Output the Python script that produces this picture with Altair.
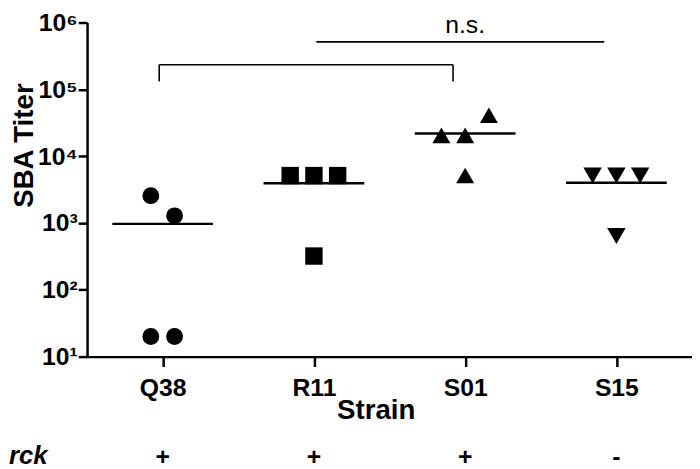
import json
import altair as alt
import pandas as pd

# ---- data ----
strains = ["Q38", "R11", "S01", "S15"]
rck = ["+", "+", "+", "-"]

titers = {
    "Q38": [2560, 1280, 20, 20],
    "R11": [5120, 5120, 5120, 320],
    "S01": [20480, 20480, 40960, 5120],
    "S15": [5120, 5120, 5120, 640],
}
# column slot of each replicate dot within its strain (scatter arrangement)
slots = {
    "Q38": [-0.5, 0.5, -0.5, 0.5],
    "R11": [-1, 0, 1, 0],
    "S01": [-1, 0, 1, 0],
    "S15": [-1, 0, 1, 0],
}
y_ticks = [10, 100, 1000, 10000, 100000, 1000000]
bracket_pair = ("Q38", "S01")
ns_pair = ("R11", "S15")
ns_label = "n.s."

rows = []
for i, s in enumerate(strains):
    for v, sl in zip(titers[s], slots[s]):
        rows.append({"strain": s, "idx": i, "titer": v, "slot": sl})
df = pd.DataFrame(rows)

FONT = "Liberation Sans"
xscale = alt.Scale(domain=[-0.5, len(strains) - 0.5], nice=False, zero=False)
yscale = alt.Scale(type="log", domain=[10, 1000000], nice=False)

sup = ["⁰", "¹", "²", "³", "⁴", "⁵", "⁶"]
y_label_expr = "'10' + " + json.dumps(sup) + "[round(log(datum.value) / LN10)]"
x_label_expr = json.dumps(strains) + "[round(datum.value)]"

xaxis = alt.Axis(
    values=list(range(len(strains))), labelExpr=x_label_expr, title="Strain",
    titleFontSize=28, titleFontWeight="bold", titleX=292, titleY=55,
    titleAlign="center", titleBaseline="middle",
    labelFontSize=25, labelFontWeight="bold", labelPadding=9, labelOverlap=False,
    tickSize=10, tickWidth=2.5, domainWidth=2.5, grid=False,
    domainColor="black", tickColor="black", labelColor="black", titleColor="black",
)
yaxis = alt.Axis(
    values=y_ticks, labelExpr=y_label_expr, title="SBA Titer",
    titleFontSize=28, titleFontWeight="bold", titleX=-63, titleY=124,
    titleAngle=270, titleAlign="center", titleBaseline="middle",
    labelFontSize=25, labelFontWeight="bold", labelPadding=1, labelOverlap=False,
    tickSize=9, tickWidth=2.5, domainWidth=2.5, grid=False,
    domainColor="black", tickColor="black", labelColor="black", titleColor="black",
)

points = alt.Chart(df).transform_calculate(
    xpos="datum.idx + datum.slot * 0.157"
).mark_point(filled=True, opacity=1, color="black", strokeWidth=0).encode(
    x=alt.X("xpos:Q", scale=xscale, axis=xaxis),
    y=alt.Y("titer:Q", scale=yscale, axis=yaxis),
    shape=alt.Shape("strain:N", scale=alt.Scale(domain=strains,
                    range=["circle", "square", "triangle-up", "triangle-down"]), legend=None),
    size=alt.Size("strain:N", scale=alt.Scale(domain=strains, range=[290, 350, 370, 370]), legend=None),
)

means = alt.Chart(df).transform_aggregate(
    m="mean(titer)", groupby=["strain", "idx"]
).transform_calculate(
    x1="datum.idx - 0.333", x2="datum.idx + 0.333"
).mark_rule(color="black", strokeWidth=2.5).encode(
    x=alt.X("x1:Q", scale=xscale, axis=xaxis),
    x2="x2:Q",
    y=alt.Y("m:Q", scale=yscale, axis=yaxis),
)

# significance annotations
a = strains.index(bracket_pair[0]) - 0.023
b = strains.index(bracket_pair[1]) - 0.08
c = strains.index(ns_pair[0]) + 0.016
d = strains.index(ns_pair[1]) - 0.08
top, leg = 234000, 131500
ns_y = 514000
segs = pd.DataFrame([
    {"x": a, "x2": b, "y": top, "y2": top},
    {"x": a, "x2": a, "y": leg, "y2": top},
    {"x": b, "x2": b, "y": leg, "y2": top},
    {"x": c, "x2": d, "y": ns_y, "y2": ns_y},
])
brackets = alt.Chart(segs).mark_rule(color="black", strokeWidth=1.6).encode(
    x=alt.X("x:Q", scale=xscale, axis=xaxis), x2="x2:Q",
    y=alt.Y("y:Q", scale=yscale, axis=yaxis), y2="y2:Q",
)
ns_df = pd.DataFrame({"x": [(strains.index(ns_pair[0]) + strains.index(ns_pair[1])) / 2],
                      "y": [698000], "t": [ns_label]})
ns_text = alt.Chart(ns_df).mark_text(fontSize=25, font=FONT, baseline="alphabetic",
                                     align="center", color="black").encode(
    x=alt.X("x:Q", scale=xscale, axis=xaxis),
    y=alt.Y("y:Q", scale=yscale, axis=yaxis),
    text="t:N",
)

rck_df = pd.DataFrame({"idx": list(range(len(strains))), "sign": rck})
rck_row = alt.Chart(rck_df).mark_text(fontSize=25, fontWeight="bold", font=FONT,
                                      baseline="middle", color="black").encode(
    x=alt.X("idx:Q", scale=xscale, axis=xaxis),
    y=alt.value(440),
    text="sign:N",
)
rck_lbl = alt.Chart(pd.DataFrame({"t": ["rck"]})).mark_text(
    fontSize=26, fontWeight="bold", fontStyle="italic", font=FONT,
    align="left", baseline="middle", color="black"
).encode(x=alt.value(-79), y=alt.value(439), text="t:N")

chart = alt.layer(points, means, brackets, ns_text, rck_row, rck_lbl).properties(
    width=612, height=338,
    autosize=alt.AutoSizeParams(type="none"),
    padding={"left": 80, "top": 12, "right": 0, "bottom": 111},
).configure(font=FONT).configure_view(stroke=None)

chart.save("out.html", embed_options={"renderer": "svg", "actions": False})
